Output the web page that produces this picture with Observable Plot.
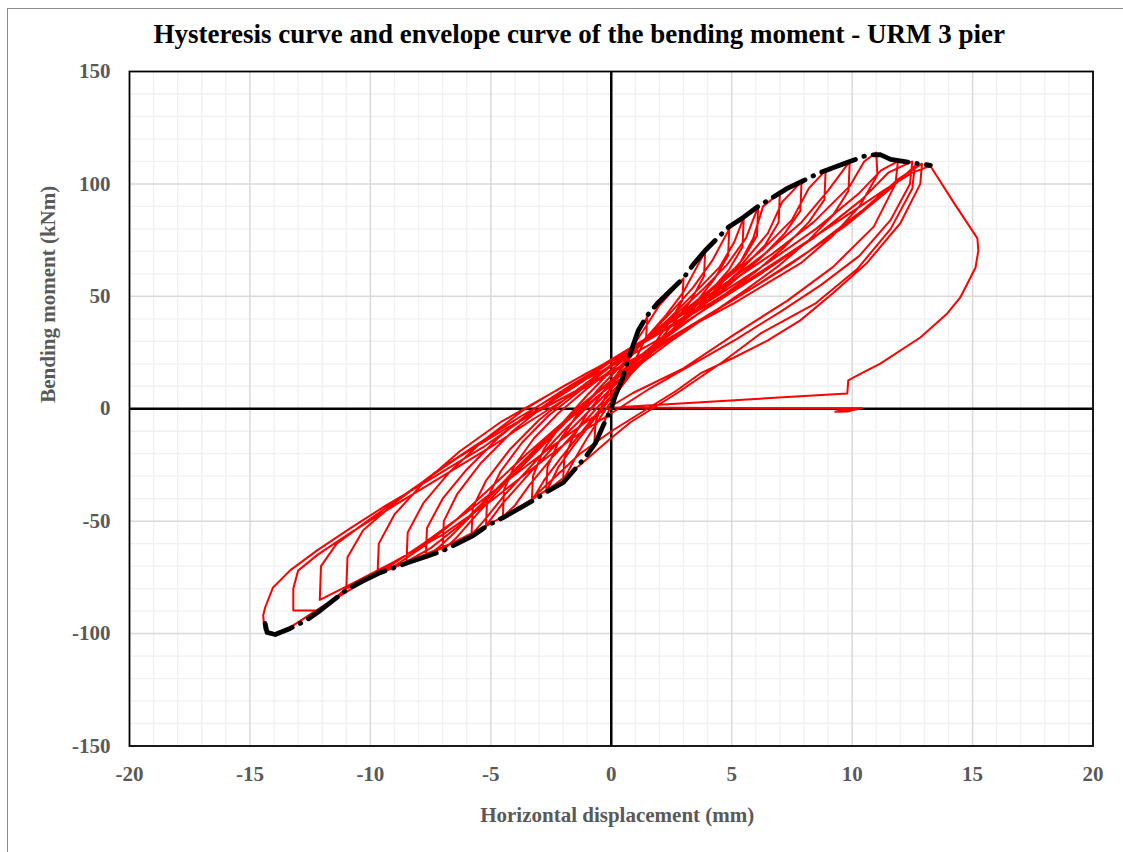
<!DOCTYPE html>
<html>
<head>
<meta charset="utf-8">
<script src="https://cdn.jsdelivr.net/npm/d3@7"></script>
<script src="https://cdn.jsdelivr.net/npm/@observablehq/plot@0.6"></script>
<style>
html,body{margin:0;padding:0;background:#fff;}
#wrap{position:relative;width:1123px;height:852px;overflow:hidden;background:#fff;}
#border{position:absolute;left:7px;top:8px;width:1200px;height:900px;border-left:1px solid #8c8c8c;border-top:1px solid #8c8c8c;}
#chart{position:absolute;left:0;top:0;}
</style>
</head>
<body>
<div id="wrap"><div id="border"></div><div id="chart"></div></div>
<script>
// ---- text ----
const titleText = "Hysteresis curve and envelope curve of the bending moment - URM 3 pier";
const xLabel = "Horizontal displacement (mm)";
const yLabel = "Bending moment (kNm)";
const xTicks = [-20, -15, -10, -5, 0, 5, 10, 15, 20];
const yTicks = [-150, -100, -50, 0, 50, 100, 150];

// ---- hysteresis (displacement mm, moment kNm) ----
const loop01 = [[0,0],[0.2,6],[0.5,14],[0.8,24],[1.1,33],[1.5,41],[1.45,32],[1.1,24],[0.6,14],[0.1,4],[-0.3,-6],[-0.7,-15]];
const loop02 = [[-0.65,-6],[-0.3,4],[0.2,14],[0.8,26],[1.4,36],[2.0,46],[2.5,52],[3.0,58],[2.95,48],[2.5,40],[1.8,29],[1.0,18],[0.3,8],[-0.4,-3],[-1.0,-13],[-1.5,-22],[-2.0,-32]];
const loop03 = [[-1.95,-22],[-1.6,-13],[-1.0,-2],[-0.3,8],[0.5,19],[1.4,31],[2.3,42],[3.0,52],[3.5,62],[3.9,70],[3.85,59],[3.3,48],[2.5,37],[1.6,25],[0.7,14],[0,5],[-0.8,-6],[-1.6,-17],[-2.2,-26],[-2.7,-37]];
const loop04 = [[-2.65,-26],[-2.2,-15],[-1.5,-4],[-0.6,8],[0.3,18],[1.3,30],[2.4,42],[3.4,54],[4.2,66],[4.9,80],[4.85,68],[4.3,58],[3.5,47],[2.6,36],[1.6,24],[0.6,13],[-0.3,2],[-1.2,-10],[-2.1,-22],[-2.8,-32],[-3.3,-41]];
const loop05 = [[-3.25,-30],[-2.8,-18],[-2.0,-6],[-1.0,6],[0,17],[1.2,29],[2.4,40],[3.5,52],[4.5,63],[5.1,74],[5.5,85],[5.45,72],[4.9,62],[4.0,51],[3.0,40],[1.9,28],[0.8,16],[-0.2,5],[-1.3,-8],[-2.4,-21],[-3.4,-34],[-4.0,-43],[-4.5,-48]];
const loop06 = [[-4.45,-36],[-4.0,-25],[-3.2,-13],[-2.2,-2],[-1.0,9],[0.2,19],[1.4,30],[2.6,41],[3.8,53],[4.8,64],[5.6,76],[6.1,90],[6.05,77],[5.5,67],[4.6,56],[3.5,44],[2.3,32],[1.1,20],[0,9],[-1.2,-4],[-2.4,-17],[-3.5,-30],[-4.5,-42],[-5.2,-52]];
const loop07 = [[-5.15,-40],[-4.6,-28],[-3.7,-15],[-2.6,-3],[-1.3,8],[0,19],[1.3,29],[2.6,40],[4.0,52],[5.3,64],[5.9,76],[6.3,90],[7.0,96],[6.95,83],[6.4,73],[5.4,62],[4.2,50],[3.0,39],[1.7,27],[0.4,15],[-0.8,3],[-2.0,-10],[-3.2,-24],[-4.4,-38],[-5.3,-50],[-5.8,-56]];
const loop08 = [[-5.75,-44],[-5.2,-32],[-4.2,-18],[-3.0,-5],[-1.6,7],[-0.2,18],[1.2,29],[2.6,40],[4.0,52],[5.4,64],[6.5,78],[7.1,92],[7.9,101],[7.85,88],[7.2,78],[6.2,67],[5.0,56],[3.7,45],[2.3,33],[0.9,21],[-0.4,9],[-1.7,-4],[-3.0,-18],[-4.3,-32],[-5.5,-46],[-6.4,-57],[-7.0,-63]];
const loop09 = [[-6.95,-50],[-6.4,-38],[-5.4,-24],[-4.1,-10],[-2.7,2],[-1.2,13],[0.2,23],[1.7,33],[3.2,45],[4.8,58],[6.3,71],[7.5,84],[8.2,98],[8.9,106],[8.85,93],[8.2,83],[7.2,72],[6.0,61],[4.6,50],[3.2,39],[1.7,27],[0.3,15],[-1.1,3],[-2.5,-11],[-3.9,-26],[-5.2,-41],[-6.5,-55],[-7.2,-62],[-7.7,-66]];
const loop10 = [[-7.65,-53],[-7.0,-40],[-6.0,-27],[-4.7,-13],[-3.2,0],[-1.6,11],[0,21],[1.6,32],[3.2,44],[4.9,57],[6.5,70],[7.9,83],[9.0,97],[9.9,110],[9.85,97],[9.2,86],[8.2,75],[7.0,64],[5.6,53],[4.1,42],[2.6,31],[1.1,19],[-0.4,7],[-1.9,-6],[-3.4,-21],[-4.8,-36],[-6.2,-51],[-7.5,-62],[-8.5,-68]];
const loop11 = [[-8.45,-55],[-7.8,-42],[-6.7,-28],[-5.3,-14],[-3.7,-1],[-2.0,10],[-0.3,20],[1.4,31],[3.1,43],[4.9,56],[6.7,69],[8.4,83],[9.9,99],[10.5,110],[11.0,114],[11.05,104],[10.3,90],[9.2,77],[7.9,65],[6.5,56],[5.1,47],[3.7,39],[2.2,29],[0.8,18],[-0.6,7],[-2.0,-6],[-3.5,-20],[-5.0,-35],[-6.5,-50],[-7.9,-62],[-9.0,-70],[-9.7,-73]];
const loop12 = [[-9.65,-60],[-9.0,-47],[-7.8,-33],[-6.3,-19],[-4.6,-6],[-2.8,5],[-1.0,16],[0.8,26],[2.6,38],[4.5,51],[6.5,65],[8.5,80],[10.3,96],[11.2,106],[11.9,110],[11.8,100],[10.9,81],[9.2,63],[7.3,48],[5.1,33],[3.0,18],[0.9,7],[-0.8,-4],[-2.5,-17],[-4.2,-31],[-6.0,-46],[-7.8,-60],[-9.2,-70],[-10.2,-75],[-11.0,-80]];
const loop13 = [[-10.95,-66],[-10.3,-54],[-9.0,-42],[-7.4,-29],[-5.6,-16],[-3.7,-3],[-1.8,9],[0,19],[2.0,31],[4.0,45],[6.2,60],[8.4,76],[10.4,93],[11.5,105],[12.5,110],[12.4,100],[11.6,84],[10.3,68],[8.7,55],[7.0,43],[5.2,31],[3.4,20],[1.6,9],[0,-2],[-1.6,-13],[-3.2,-26],[-5.0,-41],[-7.0,-56],[-9.0,-68],[-10.8,-78],[-12.1,-85]];
const loop14 = [[-12.05,-70],[-11.4,-60],[-10.0,-49],[-8.3,-36],[-6.4,-22],[-4.4,-9],[-2.5,2],[-0.6,13],[1.4,25],[3.6,39],[5.9,54],[8.2,70],[10.4,88],[11.9,102],[12.9,109],[12.83,100],[12.0,82.5],[10.6,64.7],[9.2,51.4],[7.85,39.3],[6.5,30.4],[5.1,22.8],[3.7,15.7],[2.7,8],[1.2,-2],[0,-10],[-1.3,-20],[-2.6,-33],[-3.5,-42],[-5,-51],[-7,-62],[-9,-70],[-11,-80],[-12.1,-89.7],[-13.2,-89.7]];
const loop15 = [[-13.2,-80],[-13.0,-72],[-12.2,-65],[-10.8,-55],[-9.0,-43],[-7.0,-30],[-5.0,-17],[-3.3,-5],[-1.5,7],[0.5,19],[2.7,33],[5.0,48],[7.4,64],[9.8,82],[11.6,98],[12.6,108],[12.5,98],[11.6,80],[10.2,62],[8.5,47],[6.2,33.5],[4.65,21],[2.74,7],[0.8,-6],[0,-13],[-1.3,-25],[-2.5,-35],[-4,-45],[-6,-57],[-8,-66],[-10,-75],[-12,-88],[-13.3,-97],[-14,-100],[-14.4,-98],[-14.45,-92]];
const loop16 = [[-14.37,-88.4],[-14.04,-79.5],[-13.33,-71.9],[-12.21,-63],[-10.84,-53.2],[-9.47,-43.8],[-8.06,-34.9],[-6.69,-26],[-5.32,-17.1],[-3.9,-6.4],[-3.24,-1.6],[-2.53,2.8],[-1.2,12],[0,21],[1.6,31],[3.5,43],[5.5,56],[7.5,70],[9.5,84],[11.3,97],[12.5,105],[13.25,108]];
const finalPush = [[14.2,92],[15.2,75.8],[15.24,70.3],[15.12,62.7],[14.49,49.5],[13.95,42.4],[12.83,31.7],[11.17,20.1],[10.22,14.8],[9.84,12.6],[9.8,6.8],[0.08,0.6],[5,0.3],[10.34,0.2],[9.6,-0.6],[9.3,-1.3],[9.8,-1.2],[10.4,0.3]];

// ---- envelope curve ----
const envelope = [[-14.37,-95.5],[-14.29,-99.5],[-13.95,-100.4],[-13.33,-97.7],[-12.67,-94.2],[-12.08,-89.7],[-10.96,-80.4],[-10.34,-76.8],[-9.68,-73.3],[-8.43,-68.4],[-7.68,-65.7],[-6.98,-63.1],[-5.73,-56.4],[-5.15,-52.0],[-4.49,-48.4],[-3.24,-40.8],[-2.66,-36.8],[-1.99,-32.8],[-1.08,-21.6],[-0.66,-15.4],[-0.33,-7.4],[0,0],[0.17,5.9],[0.46,13.1],[0.66,20.6],[1.12,34.8],[1.5,41.5],[1.95,47.3],[2.99,58.0],[3.41,64.2],[3.9,70.4],[4.86,80.7],[5.48,85.1],[6.1,90.0],[7.31,98.0],[7.93,101.2],[8.6,104.7],[9.93,110.1],[10.63,112.8],[11.17,113],[11.6,110.9],[12.54,109.3],[13.25,108.3]];

const hysteresis = [loop01, loop02, loop03, loop04, loop05, loop06, loop07, loop08, loop09, loop10, loop11, loop12, loop13, loop14, loop15, loop16, finalPush].flat();

const xMinor = d3.range(-20, 21, 1).filter(v => v % 5 !== 0);
const xMajor = d3.range(-15, 16, 5).filter(v => v !== 0);
const yMinor = d3.range(-150, 151, 10).filter(v => v % 50 !== 0);
const yMajor = d3.range(-100, 101, 50).filter(v => v !== 0);

const serif = "'Liberation Serif', 'Times New Roman', Times, serif";

const chart = Plot.plot({
  width: 1123,
  height: 852,
  marginLeft: 129,
  marginRight: 30.5,
  marginTop: 71,
  marginBottom: 106.5,
  style: {fontFamily: serif, fontSize: "21px", fontWeight: "bold", color: "#595959", background: "transparent", overflow: "visible"},
  x: {domain: [-20, 20], ticks: xTicks, tickSize: 0, tickPadding: 20, tickFormat: d => String(d), label: null},
  y: {domain: [-150, 150], ticks: yTicks, tickSize: 0, tickPadding: 19, tickFormat: d => String(d), label: null},
  marks: [
    Plot.ruleX(xMinor, {stroke: "#f0f0f0", strokeWidth: 1.3}),
    Plot.ruleY(yMinor, {stroke: "#f0f0f0", strokeWidth: 1.3}),
    Plot.ruleX(xMajor, {stroke: "#d9d9d9", strokeWidth: 1.5}),
    Plot.ruleY(yMajor, {stroke: "#d9d9d9", strokeWidth: 1.5}),
    Plot.ruleX([0], {stroke: "black", strokeWidth: 2.5}),
    Plot.ruleY([0], {stroke: "black", strokeWidth: 2.5}),
    Plot.line(hysteresis, {x: d => d[0], y: d => d[1], stroke: "#ff0000", strokeWidth: 2, strokeLinejoin: "round"}),
    Plot.line(envelope, {x: d => d[0], y: d => d[1], stroke: "black", strokeWidth: 4.8, strokeDasharray: "36,9,0.5,9", strokeLinecap: "round"}),
    Plot.frame({stroke: "black", strokeWidth: 1.8}),
    Plot.text([titleText], {frameAnchor: "top", dx: -32, dy: -37, lineAnchor: "middle", fontSize: 27, fontWeight: "bold", fill: "black"}),
    Plot.text([xLabel], {frameAnchor: "bottom", dx: 6, dy: 69, lineAnchor: "middle", fontSize: 21, fontWeight: "bold", fill: "#595959"}),
    Plot.text([yLabel], {frameAnchor: "left", dx: -81, dy: -6, rotate: -90, lineAnchor: "middle", fontSize: 21, fontWeight: "bold", fill: "#595959"})
  ]
});
document.getElementById("chart").appendChild(chart);
</script>
</body>
</html>
